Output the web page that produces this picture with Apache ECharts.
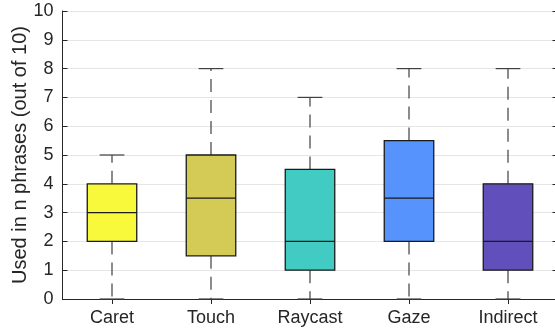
<!DOCTYPE html>
<html><head><meta charset="utf-8">
<script src="https://cdn.jsdelivr.net/npm/echarts@6/dist/echarts.min.js"></script>
<style>html,body{margin:0;padding:0;background:#fff}#c{width:555px;height:333px}</style>
</head><body><div id="c"></div>
<script>
const categories = ['Caret', 'Touch', 'Raycast', 'Gaze', 'Indirect'];
const mins    = [0, 0, 0, 0, 0];
const q1s     = [2, 1.5, 1, 2, 1];
const medians = [3, 3.5, 2, 3.5, 2];
const q3s     = [4, 5, 4.5, 5.5, 4];
const maxs    = [5, 8, 7, 8, 8];
const colors  = ['#f9f93c', '#d3cb55', '#42cbc3', '#5693fd', '#614fbb'];
const yTicks  = [0,1,2,3,4,5,6,7,8,9,10];

const data = categories.map((c, i) => [i, mins[i], q1s[i], medians[i], q3s[i], maxs[i]]);

const chart = echarts.init(document.getElementById('c'), null, {renderer: 'canvas'});
const axisCol = '#262626';
const font = 'Liberation Sans';

function renderItem(params, api) {
  const i = api.value(0);
  const bw = api.size([1, 0])[0] * 0.5;
  const cw = bw * 0.5;
  const pMin = api.coord([i, api.value(1)]);
  const pQ1 = api.coord([i, api.value(2)]);
  const pMed = api.coord([i, api.value(3)]);
  const pQ3 = api.coord([i, api.value(4)]);
  const pMax = api.coord([i, api.value(5)]);
  const x = pQ1[0];
  const wStyle = {stroke: '#404040', lineWidth: 1.2, lineDash: [13, 8]};
  const cStyle = {stroke: '#404040', lineWidth: 1.2};
  return {
    type: 'group',
    children: [
      {type: 'line', shape: {x1: x, y1: pQ1[1], x2: x, y2: pMin[1]}, style: wStyle},
      {type: 'line', shape: {x1: x, y1: pQ3[1], x2: x, y2: pMax[1]}, style: wStyle},
      {type: 'line', shape: {x1: x - cw/2, y1: pMin[1], x2: x + cw/2, y2: pMin[1]}, style: cStyle},
      {type: 'line', shape: {x1: x - cw/2, y1: pMax[1], x2: x + cw/2, y2: pMax[1]}, style: cStyle},
      {type: 'rect', shape: {x: x - bw/2, y: pQ3[1], width: bw, height: pQ1[1] - pQ3[1]},
        style: {fill: colors[i], stroke: '#1a1a1a', lineWidth: 1.3}},
      {type: 'line', shape: {x1: x - bw/2, y1: pMed[1], x2: x + bw/2, y2: pMed[1]},
        style: {stroke: '#1a1a1a', lineWidth: 1.2}}
    ]
  };
}

chart.setOption({
  animation: false,
  backgroundColor: '#fff',
  grid: {left: 62.5, top: 11, width: 495, height: 288, containLabel: false, outerBoundsMode: 'none'},
  xAxis: [
    {type: 'category', data: categories, position: 'bottom',
     axisLine: {lineStyle: {color: axisCol, width: 1}},
     axisTick: {inside: true, length: 5, alignWithLabel: true, lineStyle: {color: axisCol}},
     axisLabel: {color: axisCol, fontSize: 18, fontFamily: font, margin: 10},
     splitLine: {show: false}},
    {type: 'category', data: categories, position: 'top',
     axisLine: {show: true, lineStyle: {color: axisCol, width: 1}},
     axisTick: {show: true, inside: true, length: 5, alignWithLabel: true, lineStyle: {color: axisCol}},
     axisLabel: {show: false}, splitLine: {show: false}}
  ],
  yAxis: [
    {type: 'value', min: 0, max: 10, interval: 1, position: 'left',
     name: 'Used in n phrases (out of 10)', nameLocation: 'middle', nameGap: 32,
     nameMoveOverlap: false,
     nameTextStyle: {color: axisCol, fontSize: 20, fontFamily: font},
     axisLine: {show: true, lineStyle: {color: axisCol, width: 1}},
     axisTick: {show: true, inside: true, length: 5, lineStyle: {color: axisCol}},
     axisLabel: {color: axisCol, fontSize: 18, fontFamily: font, margin: 9,
       formatter: v => yTicks.includes(v) ? String(v) : ''},
     splitLine: {show: true, lineStyle: {color: '#e6e6e6', width: 1}}},
    {type: 'value', min: 0, max: 10, interval: 1, position: 'right',
     axisLine: {show: true, lineStyle: {color: axisCol, width: 1}},
     axisTick: {show: true, inside: true, length: 5, lineStyle: {color: axisCol}},
     axisLabel: {show: false}, splitLine: {show: false}}
  ],
  series: [{
    type: 'custom', renderItem: renderItem, data: data,
    encode: {x: 0, y: [1, 2, 3, 4, 5]}, xAxisIndex: 0, yAxisIndex: 0, clip: false
  }]
});
</script></body></html>
